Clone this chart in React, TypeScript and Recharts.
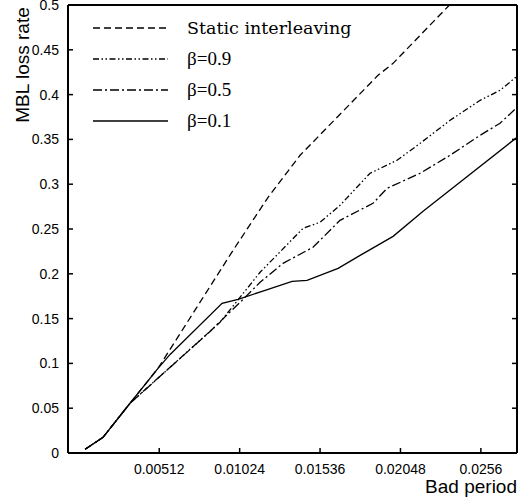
import React from 'react';
import { LineChart, Line, XAxis, YAxis, Legend } from 'recharts';

// ---- data ----
const xTicks = [0.00512, 0.01024, 0.01536, 0.02048, 0.0256];
const yTicks = [0, 0.05, 0.1, 0.15, 0.2, 0.25, 0.3, 0.35, 0.4, 0.45, 0.5];
const xDomain: [number, number] = [-0.00069, 0.0279];
const yDomain: [number, number] = [0, 0.5];

const seriesNames = ['Static interleaving', 'β=0.9', 'β=0.5', 'β=0.1'];

const staticInterleaving: [number, number][] = [
  [0.0004, 0.0041], [0.00154, 0.0175], [0.00326, 0.0555], [0.00504, 0.0945],
  [0.00982, 0.2262], [0.01205, 0.2854], [0.01409, 0.3323], [0.01905, 0.4215],
  [0.02001, 0.4349], [0.0236, 0.5],
];

const beta09: [number, number][] = [
  [0.0004, 0.0041], [0.00154, 0.0175], [0.00326, 0.0555], [0.00835, 0.1358],
  [0.00899, 0.1459], [0.01154, 0.2017], [0.01428, 0.2508], [0.01536, 0.2575],
  [0.01663, 0.2764], [0.01854, 0.3122], [0.02026, 0.3267], [0.02173, 0.3456],
  [0.02364, 0.3713], [0.02555, 0.3936], [0.02682, 0.4048], [0.0279, 0.4204],
];

const beta05: [number, number][] = [
  [0.0004, 0.0041], [0.00154, 0.0175], [0.00326, 0.0555], [0.00823, 0.1336],
  [0.01046, 0.1715], [0.01154, 0.1905], [0.013, 0.2117], [0.01491, 0.2296],
  [0.01663, 0.2597], [0.01873, 0.2787], [0.01963, 0.2954], [0.02173, 0.3122],
  [0.02364, 0.3323], [0.02555, 0.3546], [0.02682, 0.368], [0.0279, 0.3858],
];

const beta01: [number, number][] = [
  [0.0004, 0.0041], [0.00154, 0.0175], [0.00326, 0.0555], [0.00504, 0.0945],
  [0.00581, 0.11], [0.00912, 0.167], [0.01014, 0.1715], [0.01186, 0.1816],
  [0.01358, 0.1916], [0.01453, 0.1927], [0.01651, 0.2061], [0.01791, 0.2206],
  [0.02001, 0.2418], [0.02192, 0.2698], [0.0279, 0.3523],
];

const toPoints = (pts: [number, number][]) => pts.map(([x, y]) => ({ x, y }));

// ---- styles ----
const SANS = '"Liberation Sans", Arial, Helvetica, sans-serif';
const SERIF = '"Liberation Serif", "Times New Roman", serif';
const SERIES = [
  { name: seriesNames[0], data: staticInterleaving, dash: '7 4', font: '"DejaVu Serif", serif', size: 17.5 },
  { name: seriesNames[1], data: beta09, dash: '6 2.5 1.5 2.5 1.5 2.5', font: SERIF, size: 19 },
  { name: seriesNames[2], data: beta05, dash: '9 3 2 3', font: SERIF, size: 19 },
  { name: seriesNames[3], data: beta01, dash: undefined as string | undefined, font: SERIF, size: 19 },
];

const TICK_LEN = 5;

const BottomTick = (p: any) => (
  <g>
    <line x1={p.x} y1={p.y} x2={p.x} y2={p.y - TICK_LEN} stroke="#000" strokeWidth={1.5} />
    <text x={p.x} y={p.y + 21} textAnchor="middle" fontSize={14} fontFamily={SANS} fill="#000">
      {String(p.payload.value)}
    </text>
  </g>
);

const TopTick = (p: any) => (
  <line x1={p.x} y1={p.y} x2={p.x} y2={p.y + TICK_LEN} stroke="#000" strokeWidth={1.5} />
);

const LeftTick = (p: any) => (
  <g>
    <line x1={p.x} y1={p.y} x2={p.x + TICK_LEN} y2={p.y} stroke="#000" strokeWidth={1.5} />
    <text x={p.x - 9} y={p.y + 5} textAnchor="end" fontSize={14} fontFamily={SANS} fill="#000">
      {String(p.payload.value)}
    </text>
  </g>
);

const RightTick = (p: any) => (
  <line x1={p.x} y1={p.y} x2={p.x - TICK_LEN} y2={p.y} stroke="#000" strokeWidth={1.5} />
);

const XTitle = (p: any) => {
  const vb = p.viewBox || {};
  return (
    <text x={vb.x + vb.width} y={vb.y + 40} textAnchor="end" fontSize={19} fontFamily={SANS} fill="#000">
      Bad period
    </text>
  );
};

const YTitle = (p: any) => {
  const vb = p.viewBox || {};
  const cx = vb.x + 29;
  const cy = vb.y + 60;
  return (
    <text x={cx} y={cy} transform={`rotate(-90, ${cx}, ${cy})`} textAnchor="middle" fontSize={19} fontFamily={SANS} fill="#000">
      MBL loss rate
    </text>
  );
};

const LegendContent = () => (
  <svg width={330} height={130} style={{ display: 'block' }}>
    {SERIES.map((s, i) => {
      const cy = 18 + i * 31;
      return (
        <g key={s.name}>
          <line x1={5} y1={cy} x2={80} y2={cy} stroke="#000" strokeWidth={1.3} strokeDasharray={s.dash} />
          <text x={99} y={cy + 6} fontSize={s.size} fontFamily={s.font} fill="#000">
            {s.name}
          </text>
        </g>
      );
    })}
  </svg>
);

export default function App() {
  return (
    <div style={{ position: 'absolute', left: 0, top: 0, width: 530, height: 499, background: '#fff' }}>
      <LineChart width={530} height={499} margin={{ top: 4, right: 12, bottom: 0, left: 0 }}>
        <XAxis
          dataKey="x"
          type="number"
          domain={xDomain}
          ticks={xTicks}
          allowDataOverflow
          height={46}
          tickSize={0}
          tickMargin={0}
          tickLine={false}
          tick={<BottomTick />}
          axisLine={{ stroke: '#000', strokeWidth: 2 }}
          label={<XTitle />}
          interval={0}
        />
        <XAxis
          xAxisId="top"
          orientation="top"
          type="number"
          domain={xDomain}
          ticks={xTicks}
          allowDataOverflow
          height={1}
          tickSize={0}
          tickMargin={0}
          tickLine={false}
          tick={<TopTick />}
          axisLine={{ stroke: '#000', strokeWidth: 2 }}
          interval={0}
        />
        <YAxis
          type="number"
          domain={yDomain}
          ticks={yTicks}
          allowDataOverflow
          width={68}
          tickSize={0}
          tickMargin={0}
          tickLine={false}
          tick={<LeftTick />}
          axisLine={{ stroke: '#000', strokeWidth: 2 }}
          label={<YTitle />}
          interval={0}
        />
        <YAxis
          yAxisId="right"
          orientation="right"
          type="number"
          domain={yDomain}
          ticks={yTicks}
          allowDataOverflow
          width={1}
          tickSize={0}
          tickMargin={0}
          tickLine={false}
          tick={<RightTick />}
          axisLine={{ stroke: '#000', strokeWidth: 2 }}
          interval={0}
        />
        <Legend
          layout="vertical"
          align="center"
          verticalAlign="middle"
          content={<LegendContent />}
          wrapperStyle={{ left: 88, top: 10, width: 330, height: 130 }}
        />
        {SERIES.map((s) => (
          <Line
            key={s.name}
            name={s.name}
            data={toPoints(s.data)}
            dataKey="y"
            type="linear"
            stroke="#000"
            strokeWidth={1.3}
            strokeDasharray={s.dash}
            dot={false}
            activeDot={false}
            legendType="none"
            isAnimationActive={false}
          />
        ))}
      </LineChart>
    </div>
  );
}
